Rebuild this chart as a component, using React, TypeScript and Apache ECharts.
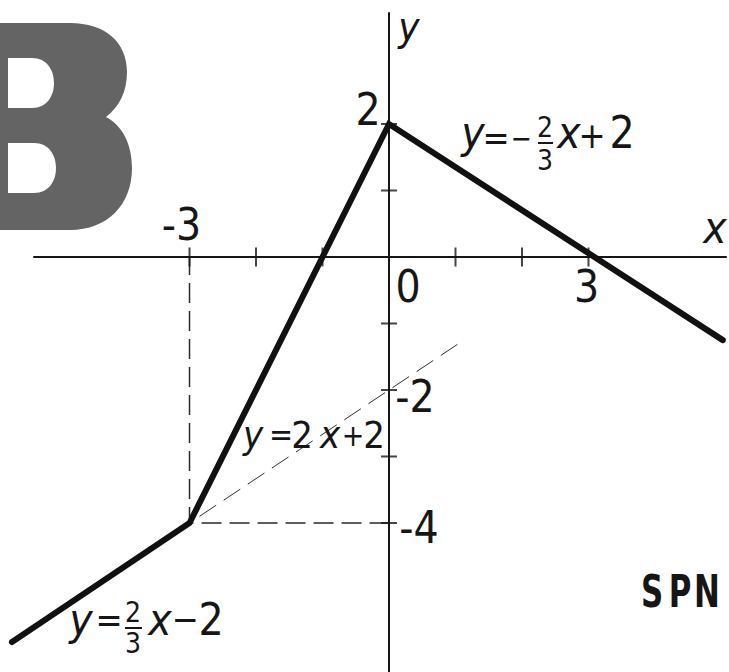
import React, { useEffect, useRef } from "react";
import * as echarts from "echarts";

// ---- data ----
const X_TICKS = [-3, -2, -1, 1, 2, 3];
const Y_TICKS = [-4, -3, -2, -1, 1, 2];
const GRAPH_POINTS: [number, number][] = [
  [-5.67, -5.79],
  [-3, -4],
  [0, 2],
  [5.02, -1.25],
];
const DROP_V: [number, number][] = [[-3, -4], [-3, 0]];
const DROP_H: [number, number][] = [[-3, -4], [0, -4]];
const EXTENSION: [number, number][] = [[-3.0, -4.0], [1.05, -1.3]];
// visible extent of the drawn axes
const X_AXIS_EXTENT = [-5.35, 5.08];
const Y_AXIS_EXTENT = [-6.3, 3.68];
// full plotting window
const X_RANGE = [-5.85, 5.113];
const Y_RANGE = [-6.241, 3.865];
const X_LABELS = [
  { text: "-3", value: -3, dx: -8, dy: -17 },
  { text: "0", value: 0, dx: 19, dy: 45 },
  { text: "3", value: 3, dx: -2, dy: 45 },
];
const Y_LABELS = [
  { text: "2", value: 2, dx: -21, dy: 1 },
  { text: "-2", value: -2, dx: 26, dy: 22 },
  { text: "-4", value: -4, dx: 30, dy: 20 },
];

const FONT = "'Liberation Sans Narrow', 'DejaVu Sans Condensed', 'Liberation Sans', sans-serif";
const INK = "#161616";

const B_PATH =
  "M-10,23 L70,23 C105,23 127,42 127,72 C127,92 119,107 106,117 C123,126 132,145 132,168 C132,205 107,230 70,230 L-10,230 Z " +
  "M8,58 L8,108 L32,108 C47,108 54,96 54,83 C54,70 47,58 32,58 Z " +
  "M8,143 L8,193 L34,193 C49,193 56,181 56,168 C56,155 49,143 34,143 Z";

let registered = false;
function registerB() {
  if (registered) return;
  echarts.graphic.registerShape("bLetter", echarts.graphic.extendPath(B_PATH, {}) as any);
  registered = true;
}

function glyph(
  text: string,
  cx: number,
  base: number,
  fs: number,
  opts: { italic?: boolean; bold?: boolean; scaleX?: number } = {}
) {
  return {
    type: "text",
    x: cx,
    y: base - 0.35 * fs,
    scaleX: opts.scaleX ?? 1,
    z: 20,
    silent: true,
    style: {
      text,
      x: 0,
      y: 0,
      fontSize: fs,
      fontFamily: FONT,
      fontStyle: opts.italic ? "italic" : "normal",
      fontWeight: opts.bold ? "bold" : "normal",
      fill: INK,
      align: "center",
      verticalAlign: "middle",
    },
  };
}

function bar(x1: number, x2: number, y: number) {
  return {
    type: "line",
    z: 20,
    silent: true,
    shape: { x1, y1: y, x2, y2: y },
    style: { stroke: INK, lineWidth: 2 },
  };
}

export default function App() {
  const ref = useRef<HTMLDivElement>(null);
  useEffect(() => {
    if (!ref.current) return;
    registerB();
    const chart = echarts.init(ref.current, undefined, { renderer: "svg" });
    const axisCommon = {
      type: "value",
      axisLine: { show: false },
      axisTick: { show: false },
      axisLabel: { show: false },
      splitLine: { show: false },
    };
    const lineBase = { type: "line", symbol: "none", silent: true, clip: false };
    chart.setOption({
      animation: false,
      backgroundColor: "#ffffff",
      grid: { left: 0, right: 0, top: 0, bottom: 0, containLabel: false, outerBoundsMode: "none" },
      xAxis: { ...axisCommon, min: X_RANGE[0], max: X_RANGE[1] },
      yAxis: { ...axisCommon, min: Y_RANGE[0], max: Y_RANGE[1] },
      series: [
        {
          ...lineBase,
          data: [[X_AXIS_EXTENT[0], 0], [X_AXIS_EXTENT[1], 0]],
          z: 1,
          lineStyle: { color: INK, width: 2 },
        },
        {
          ...lineBase,
          data: [[0, Y_AXIS_EXTENT[1]], [0, Y_AXIS_EXTENT[0]]],
          z: 1,
          lineStyle: { color: INK, width: 2 },
        },
        {
          ...lineBase,
          data: DROP_V,
          z: 2,
          lineStyle: { color: "#2a2a2a", width: 1.5, type: [20, 8], dashOffset: 4 },
        },
        {
          ...lineBase,
          data: DROP_H,
          z: 2,
          lineStyle: { color: "#2a2a2a", width: 1.5, type: [20, 8], dashOffset: -12 },
        },
        {
          ...lineBase,
          data: EXTENSION,
          z: 2,
          lineStyle: { color: "#333", width: 1, type: [20, 9], dashOffset: -12 },
        },
        {
          type: "scatter",
          data: X_TICKS.map((v) => [v, 0]),
          symbol: "rect",
          symbolSize: [2, 19],
          silent: true,
          z: 3,
          itemStyle: { color: INK },
        },
        {
          type: "scatter",
          data: Y_TICKS.map((v) => [0, v]),
          symbol: "rect",
          symbolSize: [16, 2],
          silent: true,
          z: 3,
          itemStyle: { color: INK },
        },
        {
          ...lineBase,
          data: GRAPH_POINTS,
          z: 5,
          lineStyle: { color: "#111", width: 6, cap: "round", join: "miter" },
        },
      ],
    });

    const P = (x: number, y: number) =>
      chart.convertToPixel({ xAxisIndex: 0, yAxisIndex: 0 }, [x, y]) as number[];

    const els: any[] = [];
    els.push({ type: "bLetter", x: 0, y: 0, z: 1, silent: true, style: { fill: "#646464" } });

    X_LABELS.forEach((l) => {
      const p = P(l.value, 0);
      els.push(glyph(l.text, p[0] + l.dx, p[1] + l.dy, 44));
    });
    Y_LABELS.forEach((l) => {
      const p = P(0, l.value);
      els.push(glyph(l.text, p[0] + l.dx, p[1] + l.dy, 44));
    });
    // axis names
    els.push(glyph("y", 409, 41, 40, { italic: true }));
    els.push(glyph("x", 715, 243, 44, { italic: true }));

    // y = -2/3 x + 2
    els.push(glyph("y", 473, 148, 44, { italic: true }));
    els.push(glyph("=", 496, 150, 36));
    els.push(glyph("−", 521, 148, 28));
    els.push(glyph("2", 545, 137, 28));
    els.push(bar(538, 553, 143));
    els.push(glyph("3", 545, 170, 28));
    els.push(glyph("x", 569, 148, 44, { italic: true }));
    els.push(glyph("+", 592, 148, 36));
    els.push(glyph("2", 622, 148, 44));

    // y = 2x + 2
    els.push(glyph("y", 253, 448, 38, { italic: true }));
    els.push(glyph("=", 281, 446, 32));
    els.push(glyph("2", 302, 448, 38));
    els.push(glyph("x", 330, 448, 38, { italic: true }));
    els.push(glyph("+", 353, 446, 30));
    els.push(glyph("2", 374, 448, 38));

    // y = 2/3 x - 2
    els.push(glyph("y", 81, 635, 44, { italic: true }));
    els.push(glyph("=", 109, 632, 36));
    els.push(glyph("2", 133, 622, 28));
    els.push(bar(125, 142, 628));
    els.push(glyph("3", 133, 653, 28));
    els.push(glyph("x", 160, 635, 44, { italic: true }));
    els.push(glyph("−", 185, 632, 36));
    els.push(glyph("2", 211, 635, 44));

    // SPN
    els.push(glyph("S", 652, 607, 44, { bold: true, scaleX: 0.78 }));
    els.push(glyph("P", 680, 607, 44, { bold: true, scaleX: 0.78 }));
    els.push(glyph("N", 707, 607, 44, { bold: true, scaleX: 0.78 }));

    chart.setOption({ graphic: { elements: els } });

    return () => chart.dispose();
  }, []);
  return (
    <div
      ref={ref}
      style={{ position: "fixed", left: 0, top: 0, width: 729, height: 672, background: "#fff" }}
    />
  );
}
